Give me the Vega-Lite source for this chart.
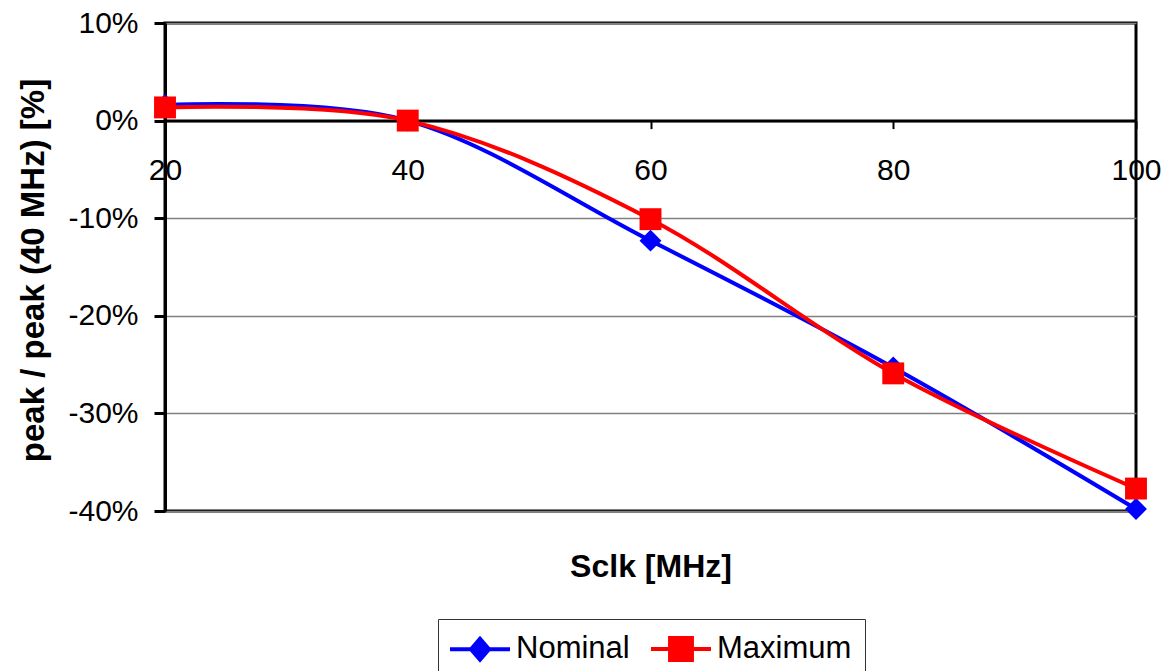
{
  "$schema": "https://vega.github.io/schema/vega-lite/v6.json",
  "width": 971,
  "height": 488,
  "autosize": {"type": "none"},
  "padding": {"left": 165, "top": 23, "right": 31, "bottom": 160},
  "background": "white",
  "config": {
    "font": "Liberation Sans",
    "view": {"stroke": "black", "strokeWidth": 3}
  },
  "data": {
    "values": [
      {"sclk": 20, "value": 1.6, "series": "Nominal"},
      {"sclk": 40, "value": 0, "series": "Nominal"},
      {"sclk": 60, "value": -12.3, "series": "Nominal"},
      {"sclk": 80, "value": -25.3, "series": "Nominal"},
      {"sclk": 100, "value": -39.8, "series": "Nominal"},
      {"sclk": 20, "value": 1.35, "series": "Maximum"},
      {"sclk": 40, "value": 0, "series": "Maximum"},
      {"sclk": 60, "value": -10.1, "series": "Maximum"},
      {"sclk": 80, "value": -25.9, "series": "Maximum"},
      {"sclk": 100, "value": -37.7, "series": "Maximum"}
    ]
  },
  "encoding": {
    "x": {
      "field": "sclk",
      "type": "quantitative",
      "scale": {"domain": [20, 100], "nice": false, "zero": false},
      "axis": {
        "title": "Sclk [MHz]",
        "orient": "bottom",
        "offset": -390.4,
        "values": [20, 40, 60, 80, 100],
        "grid": false,
        "domainColor": "black",
        "domainWidth": 3,
        "tickColor": "black",
        "tickWidth": 2,
        "tickSize": 8,
        "labelFontSize": 30,
        "labelColor": "black",
        "labelPadding": 27,
        "labelFlush": false,
        "labelOverlap": false,
        "titleFontSize": 32,
        "titleFontWeight": "bold",
        "titleColor": "black",
        "titleBaseline": "alphabetic",
        "titleAlign": "center",
        "titleX": 485.5,
        "titleY": 456
      }
    },
    "y": {
      "field": "value",
      "type": "quantitative",
      "scale": {"domain": [-40, 10], "nice": false, "zero": false},
      "axis": {
        "title": "peak / peak (40 MHz) [%]",
        "values": [-40, -30, -20, -10, 0, 10],
        "labelExpr": "datum.value + '%'",
        "grid": true,
        "gridColor": "#808080",
        "gridWidth": 1.5,
        "domainColor": "black",
        "domainWidth": 3,
        "tickColor": "black",
        "tickWidth": 3,
        "tickSize": 11,
        "labelFontSize": 30,
        "labelColor": "black",
        "labelPadding": 16,
        "labelBaseline": "middle",
        "labelFlush": false,
        "labelOverlap": false,
        "titleFontSize": 33,
        "titleFontWeight": "bold",
        "titleColor": "black",
        "titleAngle": -90,
        "titleBaseline": "alphabetic",
        "titleAlign": "center",
        "titleX": -122,
        "titleY": 247
      }
    },
    "color": {
      "field": "series",
      "type": "nominal",
      "scale": {"domain": ["Nominal", "Maximum"], "range": ["#0000FF", "#FF0000"]},
      "legend": {
        "title": null,
        "orient": "none",
        "direction": "horizontal",
        "legendX": 273,
        "legendY": 596,
        "padding": 13,
        "strokeColor": "#333333",
        "fillColor": "white",
        "symbolSize": 900,
        "symbolOffset": 12,
        "labelOffset": 19,
        "columnPadding": 13,
        "labelFontSize": 31,
        "labelColor": "black",
        "labelBaseline": "middle",
        "symbolStrokeWidth": 4,
        "symbolOpacity": 1,
        "encode": {
          "symbols": {
            "update": {
              "shape": {"signal": "datum.value === 'Nominal' ? 'M-2,0H2M-0.6,0L0,-0.7L0.6,0L0,0.7Z' : 'M-2,0H2M-0.73,-0.73H0.73V0.73H-0.73Z'"},
              "fill": {"signal": "datum.value === 'Nominal' ? '#0000FF' : '#FF0000'"},
              "stroke": {"signal": "datum.value === 'Nominal' ? '#0000FF' : '#FF0000'"}
            }
          }
        }
      }
    }
  },
  "layer": [
    {
      "mark": {"type": "line", "interpolate": "cardinal", "strokeWidth": 4}
    },
    {
      "transform": [{"filter": "datum.series === 'Nominal'"}],
      "mark": {"type": "point", "filled": true, "size": 480, "shape": "diamond", "opacity": 1}
    },
    {
      "transform": [{"filter": "datum.series === 'Maximum'"}],
      "mark": {"type": "point", "filled": true, "size": 480, "shape": "square", "opacity": 1}
    }
  ]
}
